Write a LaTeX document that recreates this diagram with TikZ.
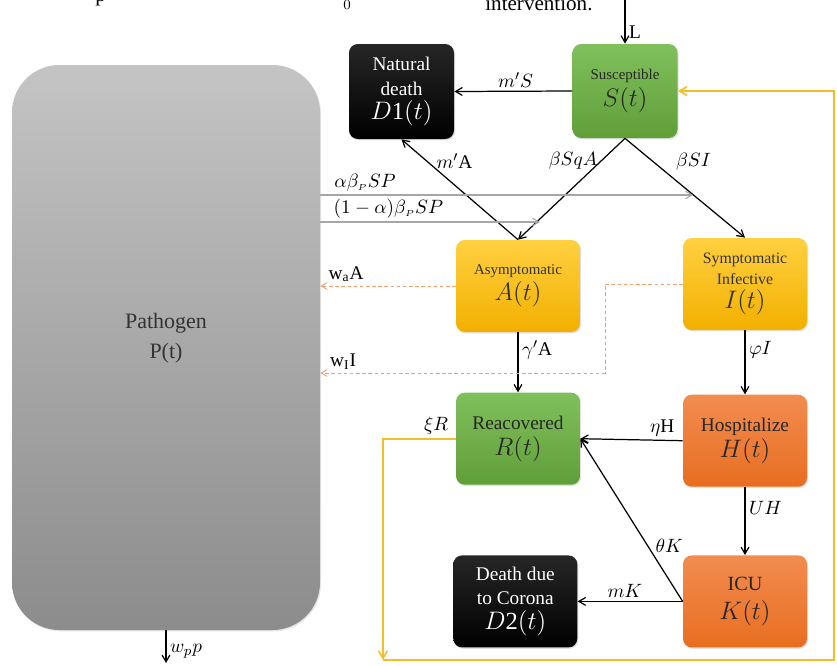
\documentclass[tikz,border=0pt]{standalone}
\usepackage{amsmath, amssymb}
\usepackage{fontspec}
\setmainfont{Liberation Serif}
\usepackage{tikz}
\usetikzlibrary{calc,arrows,shadows,positioning}
\definecolor{greentop}{RGB}{128,192,92}
\definecolor{greenbot}{RGB}{96,158,56}
\definecolor{yellowtop}{RGB}{255,208,64}
\definecolor{yellowbot}{RGB}{242,176,0}
\definecolor{orangetop}{RGB}{242,140,80}
\definecolor{orangebot}{RGB}{232,110,32}
\definecolor{greytop}{RGB}{196,196,196}
\definecolor{greybot}{RGB}{140,140,140}
\definecolor{feedback}{RGB}{245,190,40}
\definecolor{shed}{RGB}{238,160,110}

\begin{document}
\begin{tikzpicture}[>=angle 60]

\tikzset{box/.style={rounded corners=5pt,minimum width=2.48cm,minimum height=1.84cm,align=center,inner sep=1pt,font=\fontsize{11}{14}\selectfont,drop shadow={opacity=0.25,shadow xshift=0.6pt,shadow yshift=-0.8pt}},
greenbox/.style={box,top color=greentop,bottom color=greenbot,text=black!85},
yellowbox/.style={box,top color=yellowtop,bottom color=yellowbot,text=black!80},
orangebox/.style={box,top color=orangetop,bottom color=orangebot,text=black!85},
blackbox/.style={box,top color=black!85,bottom color=black,text=white},
flow/.style={->,line width=0.7pt},
greyflow/.style={->,line width=0.6pt,color=black!35},
shedflow/.style={->,line width=0.5pt,color=shed,dash pattern=on 2pt off 1.5pt},
yellowflow/.style={line width=0.9pt,color=feedback},
lab/.style={font=\fontsize{11}{13}\selectfont,inner sep=2pt,text=black}}

\useasboundingbox (0,0) rectangle (16.74,-13.3);

% cut text at the top
\node[anchor=base west,font=\fontsize{12}{14}\selectfont,inner sep=0pt] (cut1) at (1.9,-0.02) {p};
\node[anchor=base west,font=\fontsize{12}{14}\selectfont,inner sep=0pt] (cut2) at (6.86,-0.12) {$_0$};
\node[anchor=base west,font=\fontsize{12}{14}\selectfont,inner sep=0pt] (cut3) at (9.7,-0.2) {intervention.};

% Pathogen
\node[rounded corners=0.95cm,top color=greytop,bottom color=greybot,minimum width=6.16cm,minimum height=11.3cm,drop shadow={opacity=0.2,shadow xshift=0.6pt,shadow yshift=-0.8pt}] (nP) at (3.32,-6.95) {};
\node[font=\fontsize{12.5}{17}\selectfont,align=center,text=black!80] (nPtext) at (3.32,-6.77) {Pathogen\\P(t)};

% Compartments
\node[greenbox,minimum width=2.1cm,minimum height=1.88cm] (nS) at (12.5,-1.82) {{\fontsize{8.5}{10}\selectfont Susceptible}\\[1pt]{\fontsize{14.5}{16}\selectfont $S(t)$}};
\node[blackbox,minimum width=2.1cm,minimum height=1.9cm] (nD1) at (8.03,-1.83) {Natural\\death\\{\fontsize{14}{16}\selectfont $D$1$(t)$}};
\node[yellowbox] (nA) at (10.36,-5.72) {{\fontsize{8.5}{10}\selectfont Asymptomatic}\\[1pt]{\fontsize{14.5}{16}\selectfont $A(t)$}};
\node[yellowbox] (nI) at (14.9,-5.68) {{\fontsize{9}{11}\selectfont Symptomatic}\\[-2pt]{\fontsize{9}{11}\selectfont Infective}\\{\fontsize{14.5}{16}\selectfont $I(t)$}};
\node[greenbox,below=1.2cm of nA] (nR) {Reacovered\\[1pt]{\fontsize{14}{16}\selectfont $R(t)$}};
\node[orangebox,below=1.28cm of nI] (nH) {Hospitalize\\[1pt]{\fontsize{14}{16}\selectfont $H(t)$}};
\node[orangebox,below=1.36cm of nH] (nK) {{\fontsize{11.5}{14}\selectfont ICU}\\[2pt]{\fontsize{14}{16}\selectfont $K(t)$}};
\node[blackbox,left=2.1cm of nK] (nD2) {Death due\\to Corona\\{\fontsize{14}{16}\selectfont $D$2$(t)$}};

% free ends
\coordinate (cL) at (12.5,0);
\coordinate (cP) at (3.32,-13.26);
\coordinate (g1) at (13.86,-3.9);
\coordinate (g2) at (10.8,-4.44);
\coordinate (dI) at (12.1,-7.46);
\coordinate (y1) at (7.66,-13.2);
\coordinate (y2) at (16.68,-13.2);

% Flows
\draw[flow] (cL) -- node[lab,pos=0.73,right]{L} (nS.north);
\draw[flow] (nS.west) -- node[lab,pos=0.48,above]{$m'S$} (nD1.east);
\draw[flow] (nA.north) -- node[lab,pos=0.78,right=3pt]{$m'$A} (nD1.south);
\draw[flow] (nS.south) -- node[lab,pos=0.22,left]{$\beta SqA$} (nA.north);
\draw[flow] (nS.south) -- node[lab,pos=0.23,right=11pt]{$\beta SI$} (nI.north);
\draw[flow] (nA.south) -- node[lab,pos=0.3,right]{$\gamma'$A} (nR.north);
\draw[flow] (nI.south) -- node[lab,pos=0.3,right]{$\varphi I$} (nH.north);
\draw[flow] (nH.west) -- node[lab,pos=0.2,above]{$\eta$H} (nR.east);
\draw[flow] (nH.south) -- node[lab,pos=0.3,right]{$UH$} (nK.north);
\draw[flow] (nK.west) -- node[lab,pos=0.34,right=2pt]{$\theta K$} (nR.east);
\draw[flow] (nK.west) -- node[lab,pos=0.55,above]{$mK$} (nD2.east);
\draw[flow] (nP.south) -- node[lab,pos=0.65,right]{$w_pp$} (cP);

% Pathogen infection
\draw[greyflow] (nP.east |- g1) -- node[lab,pos=0.12,above]{$\alpha\beta_{\scriptscriptstyle P}SP$} (g1);
\draw[greyflow] (nP.east |- g2) -- node[lab,pos=0.31,above]{$(1-\alpha)\beta_{\scriptscriptstyle P}SP$} (g2);

% Shedding
\draw[shedflow] (nA.west) -- node[lab,pos=0.81,above]{w\textsubscript{a}A} (nP.east |- nA.west);
\draw[shedflow] (nI.west) -| (dI) -- node[lab,pos=0.92,above]{w\textsubscript{I}I} (nP.east |- dI);

% Loss of immunity
\draw[yellowflow,->] (nR.west) -- node[lab,pos=0.27,above]{$\xi R$} (nR.west -| y1) -- (y1);
\draw[yellowflow,->] (y1) -- (y2) |- (nS.east);

\end{tikzpicture}
\end{document}
